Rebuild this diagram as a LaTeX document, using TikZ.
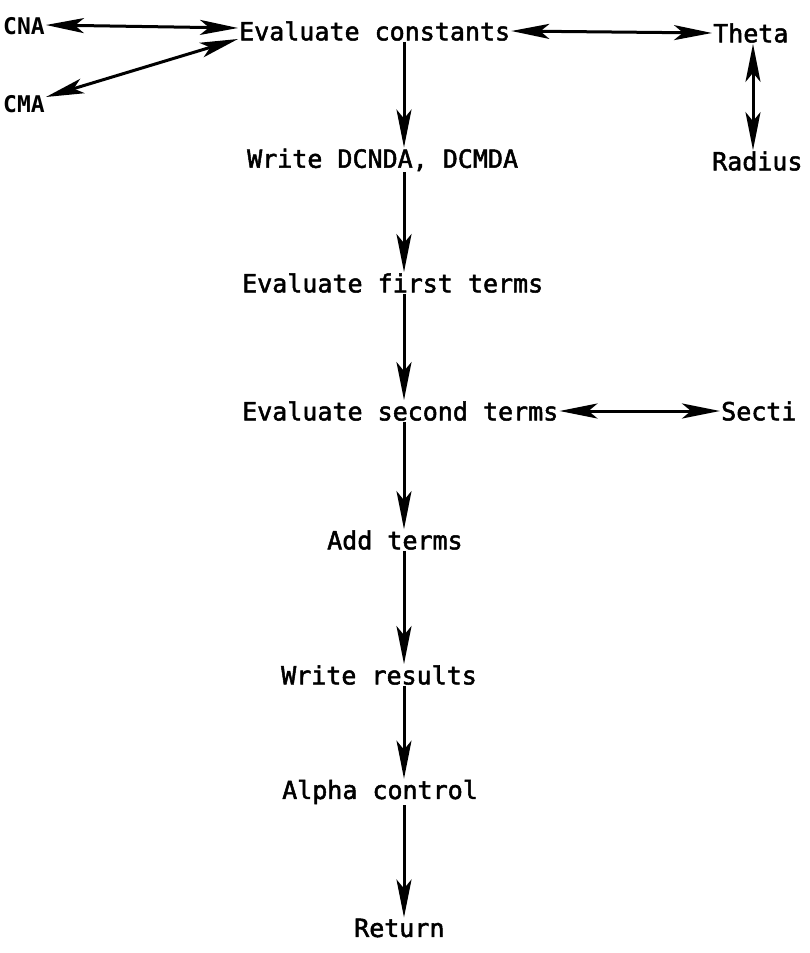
\documentclass[tikz,border=0pt]{standalone}
\usepackage{fontspec}
\setmonofont[FakeBold=2]{DejaVu Sans Mono}
\newfontfamily\cnafont{DejaVu Sans Mono Bold}
\usetikzlibrary{arrows.meta}
\tikzset{
  >={Stealth[length=38pt,width=15pt,inset=9pt]},
  lbl/.style={font=\ttfamily\fontsize{25}{25}\selectfont, inner sep=1pt, anchor=west},
  blbl/.style={font=\cnafont\fontsize{23}{23}\selectfont, inner sep=1pt, anchor=west},
  link/.style={line width=3pt, <->},
  down/.style={line width=3pt, ->}
}
\begin{document}
\begin{tikzpicture}[x=1pt,y=-1pt]
\useasboundingbox (0,0) rectangle (809,953);
\coordinate (col) at (404,0);
\coordinate (col2) at (753,0);
\node[blbl] (cna) at (2,26) {CNA};
\node[blbl] (cma) at (2,104) {CMA};
\node[lbl] (evc) at (238,31) {Evaluate constants};
\node[lbl] (theta) at (712,33) {Theta};
\node[lbl] (radius) at (711,161) {Radius};
\node[lbl] (wr) at (246,160) {Write DCNDA, DCMDA};
\node[lbl] (first) at (241,283) {Evaluate first terms};
\node[lbl] (second) at (241,411) {Evaluate second terms};
\node[lbl] (secti) at (720,411) {Secti};
\node[lbl] (add) at (326,540) {Add terms};
\node[lbl] (res) at (280,675) {Write results};
\node[lbl] (alpha) at (281,792) {Alpha control};
\node[lbl] (ret) at (353,928) {Return};

\draw[link] ([yshift=1pt]cna.east) -- ([yshift=3pt]evc.west);
\draw[link] ([yshift=7pt]cma.east) -- ([yshift=-8pt]evc.west);
\draw[link] (evc.east) -- (theta.west);
\draw[link] (theta.south -| col2) -- (radius.north -| col2);
\draw[link] (second.east) -- (secti.west);
\draw[down] (evc.south -| col) -- (wr.north -| col);
\draw[down] (wr.south -| col) -- (first.north -| col);
\draw[down] (first.south -| col) -- (second.north -| col);
\draw[down] (second.south -| col) -- (add.north -| col);
\draw[down] (add.south -| col) -- (res.north -| col);
\draw[down] (res.south -| col) -- (alpha.north -| col);
\draw[down] (alpha.south -| col) -- (ret.north -| col);
\end{tikzpicture}
\end{document}
